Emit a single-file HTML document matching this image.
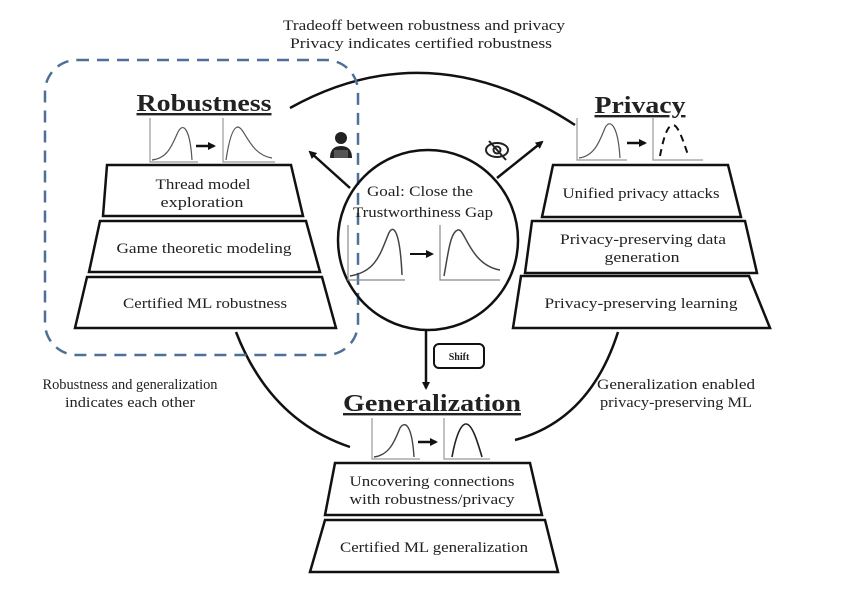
<!DOCTYPE html>
<html><head><meta charset="utf-8"><style>
html,body{margin:0;padding:0;background:#fff;}
svg{display:block;}
text{font-family:"Liberation Serif",serif;fill:#222;}
</style></head><body>
<svg width="856" height="604" viewBox="0 0 856 604" xmlns="http://www.w3.org/2000/svg">
<defs>
<marker id="ah" markerWidth="8" markerHeight="8" refX="6" refY="4" orient="auto" markerUnits="userSpaceOnUse"><path d="M0,0 L8,4 L0,8 Z" fill="#111"/></marker>
</defs>
<text x="424" y="30" font-size="14.5" text-anchor="middle" textLength="282" lengthAdjust="spacingAndGlyphs">Tradeoff between robustness and privacy</text>
<text x="421" y="48" font-size="14.5" text-anchor="middle" textLength="262" lengthAdjust="spacingAndGlyphs">Privacy indicates certified robustness</text>
<g fill="none" stroke="#111" stroke-width="2.5">
<path d="M290,108 Q430,30 575,125"/>
<path d="M236,332 Q270,420 350,447"/>
<path d="M618,332 Q590,420 515,440"/>
</g>
<rect x="45" y="60" width="313" height="295" rx="32" fill="none" stroke="#4f6f98" stroke-width="2.5" stroke-dasharray="12,8"/>
<circle cx="428" cy="240" r="90" fill="none" stroke="#111" stroke-width="2.5"/>
<text x="420" y="196" font-size="15" text-anchor="middle" textLength="106" lengthAdjust="spacingAndGlyphs">Goal: Close the</text>
<text x="423" y="217" font-size="15" text-anchor="middle" textLength="140" lengthAdjust="spacingAndGlyphs">Trustworthiness Gap</text>
<g fill="none" stroke="#888" stroke-width="1.2">
<path d="M348,225 V280 H405"/><path d="M440,225 V280 H500"/>
</g>
<path d="M350,276 C375,272 380,255 388,235 C393,222 400,230 402,275" fill="none" stroke="#444" stroke-width="1.5"/>
<path d="M444,276 C448,255 450,232 458,230 C465,228 470,265 500,270" fill="none" stroke="#444" stroke-width="1.5"/>
<line x1="410" y1="254" x2="432" y2="254" stroke="#111" stroke-width="2" marker-end="url(#ah)"/>
<line x1="350" y1="188" x2="310" y2="152" stroke="#111" stroke-width="2.5" marker-end="url(#ah)"/>
<line x1="497" y1="178" x2="542" y2="142" stroke="#111" stroke-width="2.5" marker-end="url(#ah)"/>
<line x1="426" y1="330" x2="426" y2="388" stroke="#111" stroke-width="2.5" marker-end="url(#ah)"/>
<circle cx="341" cy="138" r="6" fill="#222"/>
<path d="M330,158 Q330,146 341,146 Q352,146 352,158 Z" fill="#222"/>
<rect x="334" y="150" width="14" height="8" fill="#555"/>
<ellipse cx="497" cy="150" rx="11" ry="7" fill="none" stroke="#222" stroke-width="2"/>
<circle cx="497" cy="150" r="3.5" fill="none" stroke="#222" stroke-width="2"/>
<line x1="489" y1="141" x2="506" y2="160" stroke="#222" stroke-width="2"/>
<rect x="434" y="344" width="50" height="24" rx="5" fill="#fff" stroke="#111" stroke-width="2"/>
<text x="459" y="360" font-size="10" font-family="Liberation Sans" font-weight="bold" text-anchor="middle">Shift</text>
<text x="204" y="111" font-size="24" font-weight="bold" text-anchor="middle" text-decoration="underline" textLength="135" lengthAdjust="spacingAndGlyphs">Robustness</text>
<g fill="none" stroke="#999" stroke-width="1.2"><path d="M150,118 V162 H198"/><path d="M223,118 V162 H275"/></g>
<path d="M152,160 C168,158 172,145 178,132 C183,122 190,128 192,160" fill="none" stroke="#555" stroke-width="1.2"/>
<path d="M226,160 C229,140 233,127 238,127 C245,128 250,155 272,158" fill="none" stroke="#555" stroke-width="1.2"/>
<line x1="196" y1="146" x2="214" y2="146" stroke="#111" stroke-width="2.5" marker-end="url(#ah)"/>
<g fill="#fff" stroke="#111" stroke-width="2.5">
<path d="M107,165 H291 L303,216 H103 Z"/>
<path d="M100,221 H306 L320,272 H89 Z"/>
<path d="M87,277 H322 L336,328 H75 Z"/>
</g>
<text x="203" y="189" font-size="15" text-anchor="middle" textLength="95" lengthAdjust="spacingAndGlyphs">Thread model</text>
<text x="202" y="207" font-size="15" text-anchor="middle" textLength="83" lengthAdjust="spacingAndGlyphs">exploration</text>
<text x="204" y="253" font-size="15" text-anchor="middle" textLength="175" lengthAdjust="spacingAndGlyphs">Game theoretic modeling</text>
<text x="205" y="308" font-size="15" text-anchor="middle" textLength="164" lengthAdjust="spacingAndGlyphs">Certified ML robustness</text>
<text x="640" y="113" font-size="24" font-weight="bold" text-anchor="middle" text-decoration="underline" textLength="91" lengthAdjust="spacingAndGlyphs">Privacy</text>
<g fill="none" stroke="#999" stroke-width="1.2"><path d="M577,118 V160 H627"/><path d="M653,118 V160 H703"/></g>
<path d="M579,158 C595,156 600,140 605,128 C610,118 618,125 620,158" fill="none" stroke="#555" stroke-width="1.2"/>
<path d="M660,156 C664,135 668,125 673,125 C678,125 683,140 688,155" fill="none" stroke="#111" stroke-width="2" stroke-dasharray="7,5"/>
<line x1="627" y1="143" x2="645" y2="143" stroke="#111" stroke-width="2.5" marker-end="url(#ah)"/>
<g fill="#fff" stroke="#111" stroke-width="2.5">
<path d="M553,165 H728 L741,217 H542 Z"/>
<path d="M532,221 H745 L757,273 H525 Z"/>
<path d="M521,276 H749 L770,328 H513 Z"/>
</g>
<text x="641" y="198" font-size="15" text-anchor="middle" textLength="157" lengthAdjust="spacingAndGlyphs">Unified privacy attacks</text>
<text x="643" y="244" font-size="15" text-anchor="middle" textLength="166" lengthAdjust="spacingAndGlyphs">Privacy-preserving data</text>
<text x="642" y="262" font-size="15" text-anchor="middle" textLength="75" lengthAdjust="spacingAndGlyphs">generation</text>
<text x="641" y="308" font-size="15" text-anchor="middle" textLength="193" lengthAdjust="spacingAndGlyphs">Privacy-preserving learning</text>
<text x="130" y="389" font-size="15" text-anchor="middle" textLength="175" lengthAdjust="spacingAndGlyphs">Robustness and generalization</text>
<text x="130" y="407" font-size="15" text-anchor="middle" textLength="130" lengthAdjust="spacingAndGlyphs">indicates each other</text>
<text x="676" y="389" font-size="15" text-anchor="middle" textLength="158" lengthAdjust="spacingAndGlyphs">Generalization enabled</text>
<text x="676" y="407" font-size="15" text-anchor="middle" textLength="152" lengthAdjust="spacingAndGlyphs">privacy-preserving ML</text>
<text x="432" y="411" font-size="24" font-weight="bold" text-anchor="middle" text-decoration="underline" textLength="178" lengthAdjust="spacingAndGlyphs">Generalization</text>
<g fill="none" stroke="#999" stroke-width="1.2"><path d="M372,418 V459 H420"/><path d="M444,418 V459 H490"/></g>
<path d="M374,457 C390,455 395,440 400,428 C405,420 412,425 414,457" fill="none" stroke="#444" stroke-width="1.4"/>
<path d="M452,457 C455,440 460,424 466,424 C472,424 477,440 482,457" fill="none" stroke="#222" stroke-width="1.6"/>
<line x1="418" y1="442" x2="436" y2="442" stroke="#111" stroke-width="2.5" marker-end="url(#ah)"/>
<g fill="#fff" stroke="#111" stroke-width="2.5">
<path d="M335,463 H530 L542,515 H325 Z"/>
<path d="M325,520 H545 L558,572 H310 Z"/>
</g>
<text x="432" y="486" font-size="15" text-anchor="middle" textLength="165" lengthAdjust="spacingAndGlyphs">Uncovering connections</text>
<text x="432" y="504" font-size="15" text-anchor="middle" textLength="165" lengthAdjust="spacingAndGlyphs">with robustness/privacy</text>
<text x="434" y="552" font-size="15" text-anchor="middle" textLength="188" lengthAdjust="spacingAndGlyphs">Certified ML generalization</text>
</svg>
</body></html>
